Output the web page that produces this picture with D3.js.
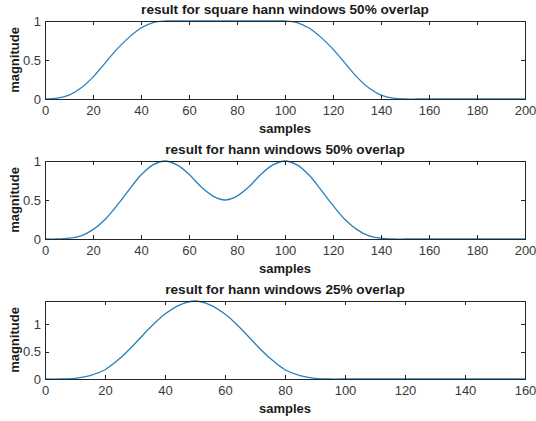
<!DOCTYPE html>
<html>
<head>
<meta charset="utf-8">
<script src="https://cdn.jsdelivr.net/npm/d3@7"></script>
<style>
  html, body { margin: 0; padding: 0; background: #fff; }
  svg { display: block; font-family: "Liberation Sans", Arial, sans-serif; }
  .axis path, .axis line { stroke: #262626; stroke-width: 1; shape-rendering: crispEdges; }
  .axis text { fill: #3a3a3a; font-size: 13px; }
  .title, .xlabel, .ylabel { fill: #1a1a1a; font-weight: bold; }
  .title { font-size: 13.6px; }
  .xlabel, .ylabel { font-size: 13px; }
</style>
</head>
<body>
<svg id="fig" width="536" height="421"></svg>
<script>
// Sample positions (x) and magnitudes for each of the three overlap-add results
const samplesA = [0,5,10,15,20,25,30,35,40,45,50,55,60,65,70,75,80,85,90,95,100,
  105,110,115,120,125,130,135,140,145,150,155,160,165,170,175,180,185,190,195,200];
const squareHann50 = [0,0.01,0.05,0.14,0.28,0.46,0.64,0.79,0.91,0.98,1,1,1,1,1,1,1,1,1,1,1,
  0.98,0.91,0.79,0.64,0.46,0.28,0.14,0.05,0.01,0,0,0,0,0,0,0,0,0,0,0];
const hann50 = [0,0,0.01,0.04,0.12,0.25,0.43,0.63,0.82,0.95,1,0.95,0.83,0.67,0.55,0.5,0.55,0.67,0.83,0.95,1,
  0.95,0.82,0.63,0.43,0.25,0.12,0.04,0.01,0,0,0,0,0,0,0,0,0,0,0,0];

const samplesB = [0,5,10,15,20,25,30,35,40,45,50,55,60,65,70,75,80,85,90,95,100,
  105,110,115,120,125,130,135,140,145,150,155,160];
const hann25 = [0,0,0.01,0.06,0.17,0.38,0.65,0.94,1.19,1.36,1.43,1.36,1.19,0.94,0.65,0.38,0.17,0.06,0.01,0,0,
  0,0,0,0,0,0,0,0,0,0,0,0];

const xTicksA = [0,20,40,60,80,100,120,140,160,180,200];
const xTicksB = [0,20,40,60,80,100,120,140,160];
const yTicks = [0,0.5,1];

const titles = [
  "result for square hann windows 50% overlap",
  "result for hann windows 50% overlap",
  "result for hann windows 25% overlap"
];

const panels = [
  { title: titles[0], xs: samplesA, ys: squareHann50, xMax: 200, xTicks: xTicksA, top: 21 },
  { title: titles[1], xs: samplesA, ys: hann50, xMax: 200, xTicks: xTicksA, top: 161 },
  { title: titles[2], xs: samplesB, ys: hann25, xMax: 160, xTicks: xTicksB, top: 301 }
];

const svg = d3.select("#fig");
const left = 45, right = 525, plotH = 78, tick = 4;
const lineColor = "#2480bf";

panels.forEach(p => {
  const bottom = p.top + plotH;
  const x = d3.scaleLinear().domain([0, p.xMax]).range([left, right]);
  const yMax = Math.max(1, d3.max(p.ys));
  const y = d3.scaleLinear().domain([0, yMax]).range([bottom, p.top]);

  const g = svg.append("g");

  // curve
  const pts = p.xs.map((s, i) => [s, p.ys[i]]);
  g.append("path")
    .datum(pts)
    .attr("fill", "none")
    .attr("stroke", lineColor)
    .attr("stroke-width", 1.3)
    .attr("d", d3.line().x(d => x(d[0])).y(d => y(d[1])).curve(d3.curveCatmullRom.alpha(0.5)));

  // box axes with inward ticks
  g.append("g").attr("class", "axis")
    .attr("transform", `translate(0,${bottom})`)
    .call(d3.axisBottom(x).tickValues(p.xTicks).tickFormat(d3.format("d"))
      .tickSizeInner(-tick).tickSizeOuter(0).tickPadding(7));
  g.append("g").attr("class", "axis")
    .attr("transform", `translate(0,${p.top})`)
    .call(d3.axisTop(x).tickValues(p.xTicks).tickFormat("")
      .tickSizeInner(-tick).tickSizeOuter(0));
  g.append("g").attr("class", "axis")
    .attr("transform", `translate(${left},0)`)
    .call(d3.axisLeft(y).tickValues(yTicks).tickFormat(d => d === 0.5 ? "0.5" : d3.format("d")(d))
      .tickSizeInner(-tick).tickSizeOuter(0).tickPadding(4));
  g.append("g").attr("class", "axis")
    .attr("transform", `translate(${right},0)`)
    .call(d3.axisRight(y).tickValues(yTicks).tickFormat("")
      .tickSizeInner(-tick).tickSizeOuter(0));

  // labels
  g.append("text").attr("class", "title")
    .attr("x", (left + right) / 2).attr("y", p.top - 7)
    .attr("text-anchor", "middle").text(p.title);
  g.append("text").attr("class", "xlabel")
    .attr("x", (left + right) / 2).attr("y", bottom + 34)
    .attr("text-anchor", "middle").text("samples");
  g.append("text").attr("class", "ylabel")
    .attr("transform", `translate(19,${(p.top + bottom) / 2}) rotate(-90)`)
    .attr("text-anchor", "middle").text("magnitude");
});
</script>
</body>
</html>
